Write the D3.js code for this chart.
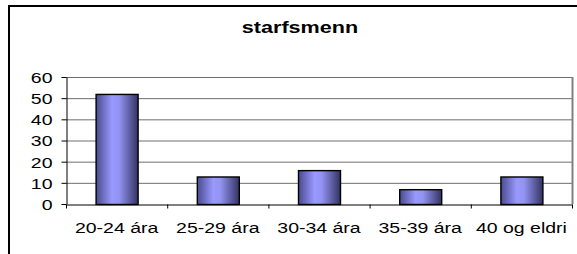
<!DOCTYPE html>
<html>
<head>
<meta charset="utf-8">
<script src="https://cdn.jsdelivr.net/npm/d3@7"></script>
<style>
  body { margin: 0; background: #fff; }
  text { font-family: "Liberation Sans", Arial, sans-serif; }
</style>
</head>
<body>
<div id="chart"></div>
<script>
const title = 'starfsmenn';
const categories = ['20-24 ára', '25-29 ára', '30-34 ára', '35-39 ára', '40 og eldri'];
const values = [52, 13, 16, 7, 13];
const yTicks = [0, 10, 20, 30, 40, 50, 60];

const width = 577;
const height = 254;
const stretch = 1.3; // the reference text looks wide, so stretch it sideways

const plot = { left: 66, right: 572, top: 77, bottom: 204 };

let svg = d3.select('#chart')
  .append('svg')
  .attr('width', width)
  .attr('height', height);

// outer chart border
svg.append('rect')
  .attr('x', 9)
  .attr('y', 6)
  .attr('width', width + 20)
  .attr('height', height + 20)
  .style('fill', '#fff')
  .style('stroke', '#000')
  .style('stroke-width', 2);

svg.append('text')
  .attr('transform', 'translate(300, 33) scale(1.35,1)')
  .style('text-anchor', 'middle')
  .style('font-weight', 'bold')
  .style('font-size', '16px')
  .text(title);

let x = d3.scaleBand()
  .domain(categories)
  .range([plot.left, plot.right])
  .paddingInner(0.585)
  .paddingOuter(0.2925);

let xb = d3.scaleLinear()
  .domain([0, categories.length])
  .range([plot.left, plot.right]);

let y = d3.scaleLinear()
  .domain([0, 60])
  .range([plot.bottom, plot.top]);

// gradient for bars
let defs = svg.append('defs');
let grad = defs.append('linearGradient')
  .attr('id', 'barGrad')
  .attr('x1', '0%').attr('x2', '100%')
  .attr('y1', '0%').attr('y2', '0%');
grad.append('stop').attr('offset', '0%').attr('stop-color', '#4a4a90');
grad.append('stop').attr('offset', '38%').attr('stop-color', '#9999ff');
grad.append('stop').attr('offset', '55%').attr('stop-color', '#9393f2');
grad.append('stop').attr('offset', '100%').attr('stop-color', '#333362');

// gridlines
svg.append('g')
  .selectAll('line')
  .data(yTicks.filter(function (d) { return d > 0; }))
  .enter()
  .append('line')
  .attr('x1', plot.left)
  .attr('x2', plot.right)
  .attr('y1', function (d) { return y(d) + 0.5; })
  .attr('y2', function (d) { return y(d) + 0.5; })
  .style('stroke', '#6e6e6e')
  .style('stroke-width', 1);

// right edge of plot area
svg.append('line')
  .attr('x1', plot.right + 0.5)
  .attr('x2', plot.right + 0.5)
  .attr('y1', plot.top)
  .attr('y2', plot.bottom)
  .style('stroke', '#808080')
  .style('stroke-width', 2);

// bars
svg.append('g')
  .selectAll('rect')
  .data(values)
  .enter()
  .append('rect')
  .attr('x', function (d, i) { return x(categories[i]) + 0.5; })
  .attr('y', function (d) { return y(d) + 0.5; })
  .attr('width', x.bandwidth())
  .attr('height', function (d) { return y(0) - y(d); })
  .style('fill', 'url(#barGrad)')
  .style('stroke', '#000')
  .style('stroke-width', 1.4);

// y axis
let yAxis = svg.append('g')
  .attr('transform', 'translate(' + (plot.left + 0.5) + ',0)')
  .call(d3.axisLeft(y).tickValues(yTicks).tickSize(5).tickSizeOuter(0));
yAxis.select('.domain').style('stroke', '#000');
yAxis.selectAll('line').style('stroke', '#000');
yAxis.selectAll('text')
  .attr('x', null)
  .attr('dy', '0.36em')
  .attr('transform', 'translate(-14,0) scale(' + stretch + ',1)')
  .style('font-size', '15px')
  .style('fill', '#000');

// x axis ticks at category boundaries
let xTickAxis = svg.append('g')
  .attr('transform', 'translate(0,' + (plot.bottom + 0.5) + ')')
  .call(d3.axisBottom(xb).tickValues(d3.range(categories.length + 1)).tickFormat('').tickSize(4).tickSizeOuter(0));
xTickAxis.selectAll('line, path').style('stroke', '#000');

// x labels
let xLabels = svg.append('g')
  .attr('transform', 'translate(0,' + plot.bottom + ')')
  .call(d3.axisBottom(x).tickSize(0));
xLabels.select('.domain').remove();
xLabels.selectAll('text')
  .attr('y', null)
  .attr('dy', null)
  .attr('transform', 'translate(0,29) scale(' + stretch + ',1)')
  .style('font-size', '15px')
  .style('fill', '#000');
</script>
</body>
</html>
